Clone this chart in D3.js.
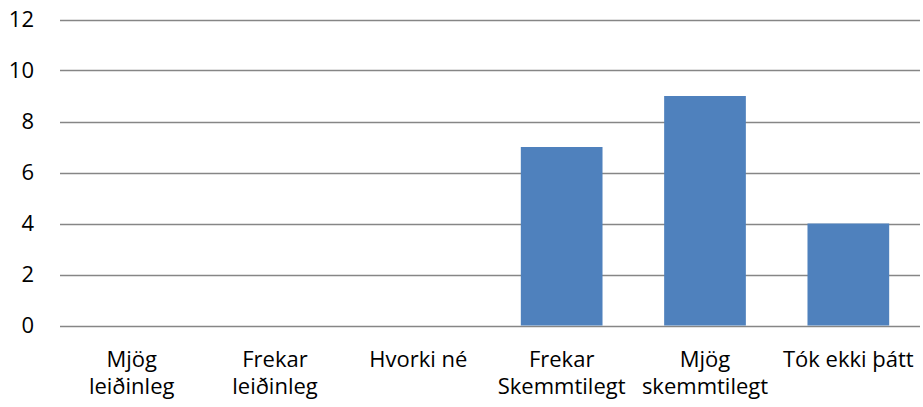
<!DOCTYPE html>
<html>
<head>
<meta charset="utf-8">
<script src="https://cdn.jsdelivr.net/npm/d3@7"></script>
<style>
  body { margin: 0; background: #fff; }
  text { font-family: "Open Sans", Lato, sans-serif; fill: #000; }
</style>
</head>
<body>
<svg id="chart" width="923" height="407"></svg>
<script>
// data
const categories = [
  ['Mjög', 'leiðinleg'],
  ['Frekar', 'leiðinleg'],
  ['Hvorki né'],
  ['Frekar', 'Skemmtilegt'],
  ['Mjög', 'skemmtilegt'],
  ['Tók ekki þátt']
];
const values = [0, 0, 0, 7, 9, 4];
const yTicks = [0, 2, 4, 6, 8, 10, 12];

const svg = d3.select('#chart');
const plotLeft = 60, plotRight = 920, plotTop = 19.5, plotBottom = 325.5;
const fontSize = '22px';

const x = d3.scaleBand()
  .domain(d3.range(categories.length))
  .range([plotLeft, plotRight])
  .paddingInner(0.43)
  .paddingOuter(0.215);

const y = d3.scaleLinear().domain([0, 12]).range([plotBottom, plotTop]);

// gridlines
svg.append('g')
  .selectAll('line')
  .data(yTicks)
  .join('line')
  .attr('x1', plotLeft).attr('x2', plotRight)
  .attr('y1', d => Math.round(y(d)) + 0.5)
  .attr('y2', d => Math.round(y(d)) + 0.5)
  .attr('stroke', '#868686')
  .attr('stroke-width', 1.5);

// y labels
svg.append('g')
  .selectAll('text')
  .data(yTicks)
  .join('text')
  .attr('x', 34)
  .attr('y', d => y(d) + 7.5)
  .attr('text-anchor', 'end')
  .style('font-size', fontSize)
  .text(d => d);

// bars
svg.append('g')
  .selectAll('rect')
  .data(values)
  .join('rect')
  .attr('x', (d, i) => x(i))
  .attr('width', x.bandwidth())
  .attr('y', d => y(d))
  .attr('height', d => y(0) - y(d))
  .attr('fill', '#4F81BD');

// x labels
const xl = svg.append('g')
  .selectAll('text')
  .data(categories)
  .join('text')
  .attr('text-anchor', 'middle')
  .style('font-size', fontSize)
  .attr('x', (d, i) => x(i) + x.bandwidth() / 2)
  .attr('y', 367);

xl.selectAll('tspan')
  .data(d => d)
  .join('tspan')
  .attr('x', function () { return d3.select(this.parentNode).attr('x'); })
  .attr('dy', (d, i) => i === 0 ? 0 : 27)
  .text(d => d);
</script>
</body>
</html>
